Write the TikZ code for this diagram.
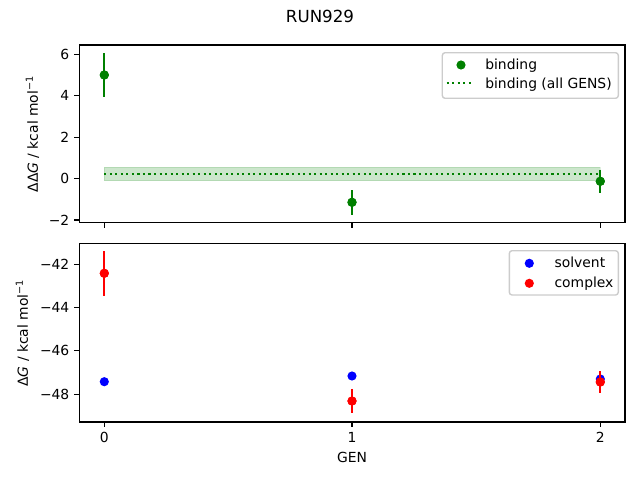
\documentclass[tikz,border=0pt]{standalone}
\usepackage{fontspec}
\setmainfont{DejaVu Sans}
\definecolor{mgreen}{HTML}{008000}
\definecolor{mblue}{HTML}{0000FF}
\definecolor{mred}{HTML}{FF0000}
\definecolor{legedge}{HTML}{CCCCCC}
\begin{document}
\begin{tikzpicture}[x=0.72pt,y=-0.72pt,
  ax/.style={line width=0.8pt, line join=miter},
  tk/.style={line width=0.8pt},
  lbl/.style={font=\fontsize{10}{12}\selectfont, inner sep=0pt},
  mk/.style={circle, inner sep=0pt, minimum size=6.6pt, fill=#1, draw=none},
  eb/.style={line width=1.5pt, draw=#1},
  legbox/.style={draw=legedge, fill=white, fill opacity=0.8, rounded corners=2pt, line width=1pt},
  dotline/.style={line width=1.5pt, mgreen, dash pattern=on 1.5pt off 2.475pt}
]
\useasboundingbox (0,0) rectangle (640,480);
% title
\node[font=\fontsize{12}{14}\selectfont, inner sep=0pt] (title) at (320,16) {RUN929};

% ---------- top axes ----------
\fill[mgreen, opacity=0.2] (104.3,167.3) rectangle (600.3,180.7);
\draw[mgreen, opacity=0.12, line width=0.8pt] (104.3,167.3) rectangle (600.3,180.7);
\draw[dotline] (104.3,174) -- (600.3,174);

\node[mk=mgreen] (b0) at (104.3,75) {};
\node[mk=mgreen] (b1) at (352,202.3) {};
\node[mk=mgreen] (b2) at (600.3,181.3) {};
\draw[eb=mgreen] (b0.center) +(0,-21.7) -- +(0,21.7);
\draw[eb=mgreen] (b1.center) +(0,-12.2) -- +(0,12.2);
\draw[eb=mgreen] (b2.center) +(0,-11.5) -- +(0,11.5);
\node[mk=mgreen] at (b0.center) {};
\node[mk=mgreen] at (b1.center) {};
\node[mk=mgreen] at (b2.center) {};

\draw[ax] (79.3,45) rectangle (625,222.7);
\foreach \yy/\lab [count=\i] in {54.3/6,95.7/4,137.3/2,178.4/0,220/−2}{
  \draw[tk] (79.3,\yy) -- ++(-4.86,0);
  \node[lbl, anchor=east] (ty\i) at (69.6,\yy) {\lab};
}
\foreach \xx in {104.3,352,600.3}{
  \draw[tk] (\xx,222.7) -- ++(0,4.86);
}
\node[lbl, rotate=90] (ylab1) at (32.5,134) {ΔΔ\textit{G} / kcal mol\textsuperscript{−1}};

% top legend
\draw[legbox] (442.3,52.7) rectangle (618.3,98.3);
\node[mk=mgreen] (lg1) at (461,65) {};
\coordinate (ld1) at (446.7,83.3);
\coordinate (ld2) at (471,83.3);
\draw[dotline] (ld1) -- (ld2);
\node[lbl, anchor=mid west] (lt1) at (485,66) {binding};
\node[lbl, anchor=mid west] (lt2) at (485,84.3) {binding (all GENS)};

% ---------- bottom axes ----------
\node[mk=mblue] (s0) at (104.3,381.7) {};
\node[mk=mblue] (s1) at (352,376) {};
\node[mk=mblue] (s2) at (600.3,379) {};
\node[mk=mred] (c0) at (104.3,273.3) {};
\node[mk=mred] (c1) at (352,401) {};
\node[mk=mred] (c2) at (600.3,382) {};
\draw[eb=mred] (c0.center) +(0,-22.2) -- +(0,22.2);
\draw[eb=mred] (c1.center) +(0,-12.2) -- +(0,12.2);
\draw[eb=mred] (c2.center) +(0,-10.8) -- +(0,10.8);
\node[mk=mred] at (c0.center) {};
\node[mk=mred] at (c1.center) {};
\node[mk=mred] at (c2.center) {};

\draw[ax] (79.3,243.8) rectangle (625,422);
\foreach \yy/\lab [count=\i] in {264.3/−42,307.6/−44,350.9/−46,394.1/−48}{
  \draw[tk] (79.3,\yy) -- ++(-4.86,0);
  \node[lbl, anchor=east] (by\i) at (69.6,\yy) {\lab};
}
\foreach \xx/\lab [count=\i] in {104.3/0,352/1,600.3/2}{
  \draw[tk] (\xx,422) -- ++(0,4.86);
  \node[lbl, anchor=north] (bx\i) at (\xx,431.7) {\lab};
}
\node[lbl] (xlab) at (352,457.5) {GEN};
\node[lbl, rotate=90] (ylab2) at (22.5,333) {Δ\textit{G} / kcal mol\textsuperscript{−1}};

% bottom legend
\draw[legbox] (509.3,250.7) rectangle (618.3,295);
\node[mk=mblue] (lg2) at (529.3,263.3) {};
\node[mk=mred] (lg3) at (529.3,283.3) {};
\node[lbl, anchor=mid west] (lt3) at (554.3,264) {solvent};
\node[lbl, anchor=mid west] (lt4) at (554.3,284) {complex};
\end{tikzpicture}
\end{document}
